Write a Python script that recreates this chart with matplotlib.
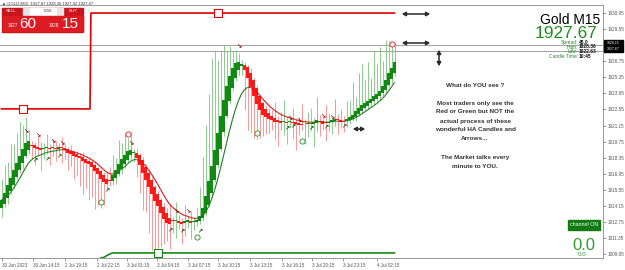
import numpy as np
import pandas as pd
import matplotlib
matplotlib.use("Agg")
import matplotlib.pyplot as plt
from matplotlib.collections import LineCollection
from matplotlib.patches import Rectangle, FancyArrowPatch

plt.rcParams['font.family'] = ['Liberation Sans', 'DejaVu Sans']

# Heiken Ashi close per M15 bar
ha_close = [1914.7, 1915.3, 1916.0, 1916.6, 1917.3, 1917.9, 1918.5, 1919.1, 1919.6,
            1919.8, 1919.4, 1919.2, 1919.1, 1919.0, 1919.2, 1919.3, 1919.1, 1919.2, 1919.1, 1919.3, 1919.2,
            1919.0, 1918.8, 1918.7, 1918.5, 1918.4, 1918.3, 1918.1, 1917.9, 1917.8, 1917.5, 1917.2, 1916.9, 1916.5, 1916.2,
            1916.1, 1916.3, 1916.8, 1917.3, 1917.8, 1918.2, 1918.6, 1918.9, 1919.0,
            1918.8, 1918.3, 1917.7, 1917.0, 1916.4, 1915.8, 1915.2, 1914.6, 1914.1, 1913.5, 1913.0,
            1912.7, 1912.6, 1912.8, 1912.9, 1912.7, 1912.6, 1912.8, 1912.9, 1912.7, 1912.8, 1912.9,
            1913.3, 1914.0, 1915.0, 1916.3, 1917.6, 1919.0, 1920.5, 1922.0, 1923.4, 1924.6, 1925.5, 1926.2, 1926.6,
            1926.7, 1926.5,
            1926.0, 1925.3, 1924.5, 1923.7, 1923.0, 1922.5, 1922.1, 1921.9, 1921.7,
            1921.6, 1921.5, 1921.5, 1921.4, 1921.5, 1921.4, 1921.5, 1921.4, 1921.3, 1921.2, 1921.2, 1921.3, 1921.4,
            1921.3, 1921.5, 1921.6, 1921.5, 1921.3, 1921.4, 1921.5, 1921.6, 1921.7, 1921.6, 1921.5, 1921.5, 1921.7,
            1921.9, 1922.1, 1922.4, 1922.7, 1922.9, 1923.1, 1923.3, 1923.5, 1923.7, 1923.9, 1924.2, 1924.6,
            1925.1, 1925.7, 1926.2, 1926.7]
first_open = 1914.0

upper_wick = [1.8, 2.4, 2.0, 2.9, 2.2, 2.6, 3.0, 2.1, 2.3,
              1.0, 0.4, 0.3, 0.9, 0.5, 0.4, 1.1, 0.3, 0.8, 0.6, 0.3, 0.9,
              0.3, 0.2, 0.5, 0.2, 0.3, 0.2, 0.4, 0.1, 0.3, 0.2, 0.3, 0.1, 0.2, 0.3,
              0.6, 1.2, 1.8, 1.0, 2.1, 1.4, 1.9, 1.2, 1.6,
              0.3, 0.4, 0.2, 0.3, 0.2, 0.4, 0.3, 0.2, 0.3, 0.2, 0.3,
              0.4, 1.2, 0.3, 1.6, 0.5, 0.3, 1.4, 0.4, 0.9, 0.3, 1.1,
              2.5, 4.4, 6.2, 7.6, 9.4, 8.6, 6.4, 5.6, 4.8, 3.0, 2.6, 1.4, 1.1,
              0.8, 0.4,
              0.3, 0.2, 0.4, 0.2, 0.3, 0.1, 0.2, 0.3, 0.4,
              0.5, 1.4, 0.3, 0.8, 1.9, 0.4, 0.6, 1.2, 0.3, 0.5, 1.7, 0.4, 0.9,
              1.3, 0.3, 2.0, 0.6, 0.4, 1.5, 0.7, 0.3, 1.8, 0.5, 1.0, 0.4, 1.6,
              1.5, 2.8, 1.2, 3.0, 3.6, 2.0, 3.4, 1.8, 3.9, 2.6, 3.8, 2.2, 3.5, 2.8, 2.0, 1.6]
lower_wick = [0.8, 0.3, 0.5, 0.2, 0.4, 0.2, 0.3, 0.5, 0.2,
              0.4, 1.2, 1.5, 0.6, 1.8, 0.9, 0.5, 1.4, 0.7, 1.0, 0.4, 1.3,
              0.8, 1.5, 1.1, 2.0, 1.6, 2.4, 2.9, 2.2, 3.1, 2.6, 3.3, 2.7, 2.5, 2.0,
              0.6, 0.4, 0.3, 0.5, 0.2, 0.4, 0.3, 0.2, 0.3,
              0.8, 1.6, 2.4, 3.2, 2.8, 4.0, 4.9, 4.3, 3.6, 2.9, 2.2,
              1.6, 2.2, 1.0, 1.5, 0.6, 1.8, 1.2, 0.5, 1.4, 0.7, 0.4,
              0.3, 0.2, 0.3, 0.2, 0.4, 0.2, 0.3, 0.2, 0.3, 0.2, 0.3, 0.2, 0.3,
              0.5, 0.8,
              3.5, 4.5, 4.0, 3.6, 3.0, 2.4, 1.9, 1.5, 1.2,
              0.8, 1.5, 2.1, 0.6, 1.2, 1.9, 0.5, 1.4, 2.3, 0.9, 0.4, 1.7, 1.1,
              0.6, 2.0, 0.8, 1.3, 0.5, 1.6, 0.7, 1.0, 0.4, 1.2, 0.6, 0.9, 0.5,
              0.3, 0.2, 0.4, 0.2, 0.3, 0.2, 0.3, 0.2, 0.4, 0.2, 0.3, 0.2, 0.3, 0.2, 0.3, 0.2]

# channel step lines
upper_bars = [0, 29.5, 29.8, 131]
upper_level = [1922.6, 1922.6, 1930.95, 1930.95]
lower_bars = [33, 34, 35, 36, 37, 131]
lower_level = [1909.6, 1909.65, 1909.8, 1909.95, 1910.05, 1910.05]

# signals
sell_arrow_bar = [8, 12, 17, 20, 43, 58, 62, 79, 96, 99, 107, 110]
sell_arrow_price = [1920.6, 1920.3, 1919.7, 1919.6, 1919.55, 1913.6, 1913.6, 1928.0, 1921.7, 1921.55, 1921.9, 1921.8]
buy_arrow_bar = [11, 15, 19, 35, 56, 60, 66, 95, 97, 103, 108, 114]
buy_arrow_price = [1918.05, 1918.15, 1918.4, 1915.45, 1911.95, 1911.9, 1911.9, 1920.85, 1921.0, 1920.85, 1920.95, 1921.0]
sell_circle_bar = [42, 130]
sell_circle_price = [1920.4, 1928.25]
buy_circle_bar = [33, 65, 85, 100]
buy_circle_price = [1914.5, 1911.45, 1920.5, 1919.8]
red_square_bar = [7, 72]
red_square_price = [1922.6, 1930.95]
green_square_bar = [52]
green_square_price = [1910.05]

bid, ask = 1927.67, 1928.15

# 1928.15 sits under the black price box, so its label is drawn by the box
price_ticks = [1930.95, 1929.55, 1928.15, 1926.75, 1925.35, 1923.95, 1922.55, 1921.15,
               1919.75, 1918.35, 1916.95, 1915.55, 1914.15, 1912.75, 1911.35, 1909.95]
date_bars = [0.2, 10.5, 21.2, 31.8, 41.8, 51.8, 62.2, 72.2, 82.8, 93.5, 103.5, 113.8, 125.2]
date_labels = ['30 Jun 2023', '30 Jun 14:15', '2 Jul 19:15', '2 Jul 22:15', '3 Jul 01:15',
               '3 Jul 04:15', '3 Jul 07:15', '3 Jul 10:15', '3 Jul 13:15', '3 Jul 16:15',
               '3 Jul 20:15', '3 Jul 23:15', '4 Jul 02:15']

note_lines = ['What do YOU see ?', '', 'Most traders only see the', 'Red or Green but NOT the',
              'actual process of these', 'wonderful HA Candles and', 'Arrows...', '',
              'The Market talks every', 'minute to YOU.']

# --- heiken ashi open from the closes
close = np.array(ha_close)
n = len(close)
x = np.arange(n)
ha_open = np.empty(n)
ha_open[0] = first_open
for i in range(1, n):
    ha_open[i] = (ha_open[i - 1] + close[i - 1]) / 2
top = np.maximum(ha_open, close)
bot = np.minimum(ha_open, close)
high = top + np.array(upper_wick)
low = bot - np.array(lower_wick)
up = close >= ha_open

W, H = 625, 270
def px(xp, yp):
    return xp / W, 1 - yp / H

fig = plt.figure(figsize=(6.25, 2.7), dpi=100)
ax = fig.add_axes([0, 12 / H, 603 / W, 253 / H])
ax.set_xlim(-0.5, 200.5)
ax.set_ylim(1909.61, 1931.65)

green, red = '#118a11', '#ff1a1a'
ax.vlines(x[up], low[up], high[up], color='#6cc06c', lw=0.55, zorder=1)
ax.vlines(x[~up], low[~up], high[~up], color='#ff7a7a', lw=0.55, zorder=1)
hgt = np.maximum(top - bot, 0.08)
ax.bar(x[up], hgt[up], bottom=bot[up], width=0.8, color=green, lw=0, zorder=2)
ax.bar(x[~up], hgt[~up], bottom=bot[~up], width=0.8, color=red, lw=0, zorder=2)

ema = pd.Series(close).ewm(span=10, adjust=False).mean().values
segs = [[(x[i], ema[i]), (x[i + 1], ema[i + 1])] for i in range(n - 1)]
cols = ['#1b7a1b' if ema[i + 1] >= ema[i] else '#e01010' for i in range(n - 1)]
ax.add_collection(LineCollection(segs, colors=cols, lw=0.8, zorder=3))

ax.plot(upper_bars, upper_level, color='#e00000', lw=1.2, zorder=3)
ax.plot(lower_bars, lower_level, color='#138a13', lw=1.2, zorder=3)
ax.axhline(ask, color='#a0a0a0', lw=0.7, zorder=0)
ax.axhline(bid, color='#a0a0a0', lw=0.7, zorder=0)

for b, p in zip(sell_arrow_bar, sell_arrow_price):
    ax.text(b, p, '\u2198', color='#8b0000', fontsize=4.5, ha='center', va='center',
            fontweight='bold', family='DejaVu Sans', zorder=5)
for b, p in zip(buy_arrow_bar, buy_arrow_price):
    ax.text(b, p, '\u2197', color='#005a00', fontsize=4.5, ha='center', va='center',
            fontweight='bold', family='DejaVu Sans', zorder=5)
ax.scatter(sell_circle_bar, sell_circle_price, s=14, facecolor='white', edgecolor='#e02020', lw=0.6, zorder=5)
ax.scatter(buy_circle_bar, buy_circle_price, s=14, facecolor='white', edgecolor='#209020', lw=0.6, zorder=5)
ax.scatter(red_square_bar, red_square_price, marker='s', s=30, facecolor='white', edgecolor='#e00000', lw=0.8, zorder=5)
ax.scatter(green_square_bar, green_square_price, marker='s', s=30, facecolor='white', edgecolor='#138a13', lw=0.8, zorder=5)

ax.yaxis.tick_right()
ax.set_yticks(price_ticks)
ax.set_yticklabels(['' if v == ask else f'{v:.2f}' for v in price_ticks])
ax.set_xticks(date_bars)
ax.set_xticklabels(date_labels, ha='left')
ax.tick_params(axis='both', labelsize=3.3, colors='#555555', length=2, width=0.4, pad=1.5)
ax.spines['left'].set_visible(False)
for s in ['top', 'right', 'bottom']:
    ax.spines[s].set_color('#888888')
    ax.spines[s].set_linewidth(0.6)

# annotation arrows
for x0, y0, x1, y1 in [(399, 14, 433, 14), (399, 43, 433, 43), (439, 47, 439, 69), (350, 129, 368, 129)]:
    fig.add_artist(FancyArrowPatch(px(x0, y0), px(x1, y1), transform=fig.transFigure,
                   arrowstyle='<|-|>,head_length=2.2,head_width=1.2', color='#2a2a2a', lw=1.1))

# note text
note_y = [85, 94, 103, 112, 121, 130, 139, 148, 157, 166]
for t, yy in zip(note_lines, note_y):
    if t:
        fig.text(*px(475, yy), t, ha='center', va='center', fontsize=4.6, fontweight='bold', color='#333333')

# info block top right
fig.text(*px(600, 20), 'Gold M15', ha='right', va='center', fontsize=10, color='black')
fig.text(*px(597, 33), '1927.67', ha='right', va='center', fontsize=12.5, color='#1e8c1e')
for lab, val, yy in [('Spread:', '48.0', 42.5), ('High:', '1928.36', 47), ('Low:', '1922.63', 51.5),
                     ('Candle Time:', '10:45', 57)]:
    fig.text(*px(578, yy), lab, ha='right', va='center', fontsize=3.5, color='#2a8a2a')
    fig.text(*px(579, yy), val, ha='left', va='center', fontsize=3.5, color='#111111', fontweight='bold')

# price box on axis
fig.add_artist(Rectangle(px(604, 52), 19 / W, 12 / H, transform=fig.transFigure, color='black'))
fig.text(*px(613.5, 42.8), '1928.15', ha='center', va='center', fontsize=2.5, color='white')
fig.text(*px(613.5, 49.2), '1927.67', ha='center', va='center', fontsize=2.5, color='white')

# channel box bottom right
fig.add_artist(Rectangle(px(568, 230), 32 / W, 10 / H, transform=fig.transFigure, color='#117a11'))
fig.text(*px(584, 225), 'channel ON', ha='center', va='center', fontsize=3.8, color='white')
fig.text(*px(584, 245), '0.0', ha='center', va='center', fontsize=12, color='#2e9e2e')
fig.text(*px(582, 255), '0.0', ha='center', va='center', fontsize=4.5, color='#2e9e2e')

# header and trade panel top left
fig.text(*px(2, 3.5), '\u25b2 GOLD,M15  1927.87 1928.36 1927.42 1927.47', ha='left', va='center',
         fontsize=3, color='#333333', family=['Liberation Sans', 'DejaVu Sans'])
fig.add_artist(Rectangle(px(2, 32), 81 / W, 24 / H, transform=fig.transFigure, color='#c8141a'))
fig.add_artist(Rectangle(px(23, 14.5), 7 / W, 6 / H, transform=fig.transFigure, color='#e6e6e6'))
fig.add_artist(Rectangle(px(30, 14.5), 27 / W, 6 / H, transform=fig.transFigure, color='white'))
fig.add_artist(Rectangle(px(57, 14.5), 6 / W, 6 / H, transform=fig.transFigure, color='#e6e6e6'))
fig.text(*px(11, 11.5), 'SELL', ha='center', va='center', fontsize=3.2, color='white')
fig.text(*px(73, 11.5), 'BUY', ha='center', va='center', fontsize=3.2, color='white')
fig.text(*px(48, 11.5), '0.50', ha='center', va='center', fontsize=3.2, color='#333333')
fig.add_artist(Rectangle(px(3, 31), 40 / W, 15 / H, transform=fig.transFigure, color='#dc1c22'))
fig.add_artist(Rectangle(px(44, 31), 39 / W, 15 / H, transform=fig.transFigure, color='#dc1c22'))
fig.text(*px(13, 25.5), '1927', ha='center', va='center', fontsize=3.3, color='white')
fig.text(*px(28, 23.5), '60', ha='center', va='center', fontsize=11, color='white')
fig.text(*px(54, 25.5), '1928', ha='center', va='center', fontsize=3.3, color='white')
fig.text(*px(70, 23.5), '15', ha='center', va='center', fontsize=11, color='white')

fig.savefig('out.png', dpi=100, facecolor='white')
